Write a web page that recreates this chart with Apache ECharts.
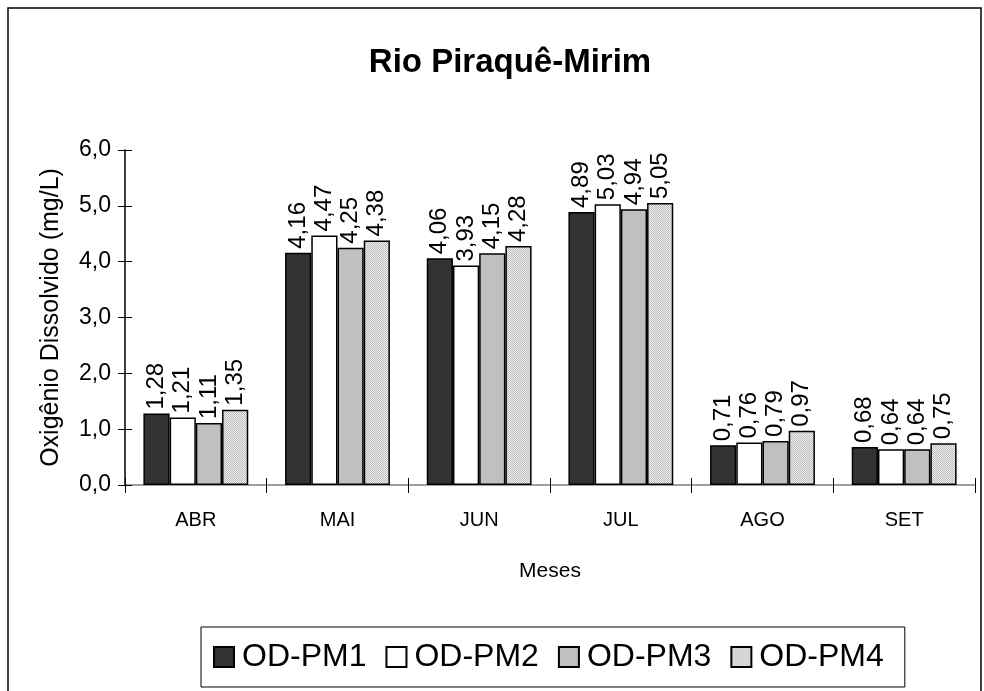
<!DOCTYPE html>
<html>
<head>
<meta charset="utf-8">
<script src="https://cdn.jsdelivr.net/npm/echarts@6/dist/echarts.min.js"></script>
<style>
  html, body { margin: 0; padding: 0; background: #fff; }
  #chart { width: 984px; height: 691px; }
</style>
</head>
<body>
<div id="chart"></div>
<script>
// Dissolved oxygen (mg/L) per month and sampling station
const months = ['ABR', 'MAI', 'JUN', 'JUL', 'AGO', 'SET'];
const seriesNames = ['OD-PM1', 'OD-PM2', 'OD-PM3', 'OD-PM4'];
const odPM1 = [1.28, 4.16, 4.06, 4.89, 0.71, 0.68];
const odPM2 = [1.21, 4.47, 3.93, 5.03, 0.76, 0.64];
const odPM3 = [1.11, 4.25, 4.15, 4.94, 0.79, 0.64];
const odPM4 = [1.35, 4.38, 4.28, 5.05, 0.97, 0.75];
const yTicks = [0, 1, 2, 3, 4, 5, 6];

// fine dotted fill for the fourth station
function dotPattern() {
  const c = document.createElement('canvas');
  c.width = 2; c.height = 2;
  const g = c.getContext('2d');
  g.fillStyle = '#efefef'; g.fillRect(0, 0, 2, 2);
  g.fillStyle = '#bdbdbd';
  g.fillRect(0, 0, 1, 1); g.fillRect(1, 1, 1, 1);
  return { image: c, repeat: 'repeat' };
}

const fills = ['#333333', '#ffffff', '#c0c0c0', dotPattern()];
const values = [odPM1, odPM2, odPM3, odPM4];
const FONT = '"Liberation Sans", Arial, sans-serif';
const comma = (v, d) => v.toFixed(d).replace('.', ',');

const chart = echarts.init(document.getElementById('chart'), null, { renderer: 'canvas' });

const series = seriesNames.map((name, i) => ({
  name,
  type: 'bar',
  data: values[i],
  barGap: '0%',
  barCategoryGap: '26%',
  itemStyle: { color: fills[i], borderColor: '#000', borderWidth: 1.5 },
  label: {
    show: true,
    position: 'top',
    distance: 4,
    rotate: 90,
    align: 'left',
    verticalAlign: 'middle',
    fontFamily: FONT,
    fontSize: 24,
    color: '#000',
    formatter: p => comma(p.value, 2)
  },
  emphasis: { disabled: true }
}));

chart.setOption({
  animation: false,
  backgroundColor: '#fff',
  title: {
    text: 'Rio Piraquê-Mirim',
    left: 505,
    textAlign: 'center',
    top: 41,
    textStyle: { fontFamily: FONT, fontWeight: 'bold', fontSize: 33, color: '#000' }
  },
  graphic: [{
    type: 'rect',
    shape: { x: 8, y: 8, width: 973, height: 700 },
    style: { fill: 'none', stroke: '#000', lineWidth: 1.5 },
    silent: true
  }],
  legend: {
    data: seriesNames,
    left: 201,
    top: 627,
    padding: [14, 21, 14, 12],
    itemWidth: 20,
    itemHeight: 20,
    itemGap: 19,
    borderColor: '#000',
    borderWidth: 1,
    icon: 'rect',
    textStyle: { fontFamily: FONT, fontSize: 32, color: '#000', padding: [0, 0, 0, 3] }
  },
  grid: { left: 125, right: 9, top: 150, bottom: 206, containLabel: false },
  xAxis: [{
    type: 'category',
    data: months,
    name: 'Meses',
    nameLocation: 'middle',
    nameGap: 76,
    nameTextStyle: { fontFamily: FONT, fontSize: 21, color: '#000' },
    axisLine: { lineStyle: { color: '#808080', width: 1.5 } },
    axisTick: { show: true, length: 8, lineStyle: { color: '#000' } },
    axisLabel: { fontFamily: FONT, fontSize: 20, color: '#000', margin: 25 }
  }, {
    type: 'category',
    data: months,
    position: 'bottom',
    axisLine: { show: false },
    axisTick: { show: true, inside: true, length: 7, lineStyle: { color: '#000' } },
    axisLabel: { show: false }
  }],
  yAxis: [{
    type: 'value',
    min: yTicks[0],
    max: yTicks[yTicks.length - 1],
    interval: 1,
    name: 'Oxigênio Dissolvido (mg/L)',
    nameLocation: 'middle',
    nameGap: 61,
    nameTextStyle: { fontFamily: FONT, fontSize: 25, color: '#000' },
    axisLine: { show: true, lineStyle: { color: '#000', width: 1.5 } },
    axisTick: { show: true, length: 7, lineStyle: { color: '#000' } },
    axisLabel: { fontFamily: FONT, fontSize: 23, color: '#000', margin: 14, formatter: v => comma(v, 1) },
    splitLine: { show: false }
  }, {
    type: 'value',
    min: yTicks[0],
    max: yTicks[yTicks.length - 1],
    interval: 1,
    position: 'left',
    offset: 0,
    axisLine: { show: false },
    axisTick: { show: true, inside: true, length: 7, lineStyle: { color: '#000' } },
    axisLabel: { show: false },
    splitLine: { show: false }
  }],
  series
});
</script>
</body>
</html>
